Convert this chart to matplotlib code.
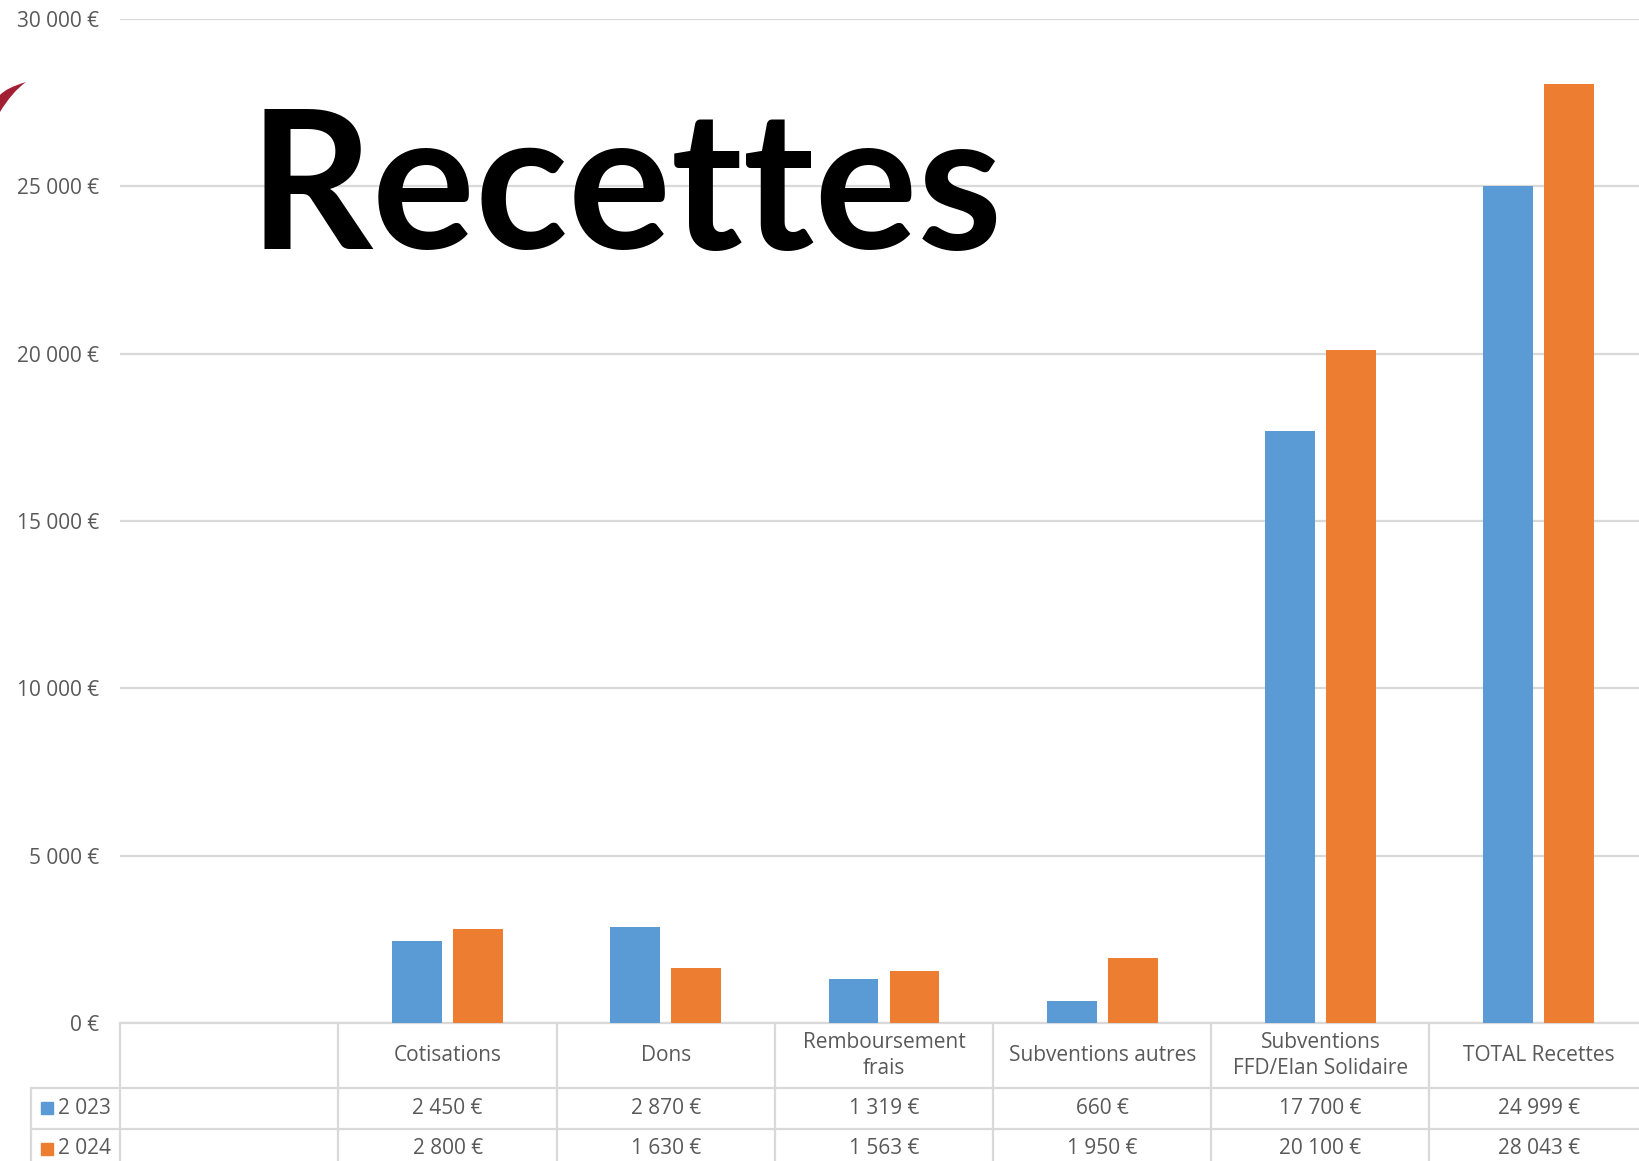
import numpy as np
import matplotlib.pyplot as plt
import matplotlib.transforms as mtransforms
from matplotlib.path import Path
from matplotlib.patches import PathPatch

plt.rcParams['font.family'] = ['Open Sans', 'DejaVu Sans']

# données
categories = ['', 'Cotisations', 'Dons', 'Remboursement\nfrais', 'Subventions autres',
              'Subventions\nFFD/Elan Solidaire', 'TOTAL Recettes']
series_names = ['2 023', '2 024']
vals_2023 = [np.nan, 2450, 2870, 1319, 660, 17700, 24999]
vals_2024 = [np.nan, 2800, 1630, 1563, 1950, 20100, 28043]
yticks = [0, 5000, 10000, 15000, 20000, 25000, 30000]

blue = '#5B9BD5'
orange = '#ED7D31'
grey_txt = '#595959'
grid_col = '#d9d9d9'
fs = 15


def euro(v):
    return f"{int(v):,}".replace(',', ' ') + ' €'


fig = plt.figure(figsize=(16.4, 11.61), dpi=100)
ax = fig.add_axes([120.3 / 1640, 1 - 1023 / 1161, 7 * 218.2 / 1640, (1023 - 18.8) / 1161])

x = np.arange(len(categories))
w = 0.228
off = 0.14
ax.bar(x - off, vals_2023, w, color=blue, zorder=3)
ax.bar(x + off, vals_2024, w, color=orange, zorder=3)

ax.set_xlim(-0.5, len(categories) - 0.5)
ax.set_ylim(0, 30000)
ax.set_yticks(yticks)
ax.set_yticklabels([euro(v) for v in yticks], color=grey_txt, fontsize=fs)
ax.tick_params(axis='y', length=0, pad=15)
ax.set_xticks([])
ax.yaxis.grid(True, color=grid_col, lw=1.6)
ax.set_axisbelow(True)
for s in ax.spines.values():
    s.set_visible(False)

# tableau de données sous le graphique
trans = mtransforms.blended_transform_factory(ax.transData, ax.transAxes)
axh = (1023 - 18.8)
h_head = 65 / axh
h_row = 40.5 / axh
leg_left = -0.5 - (120.3 - 31) / 218.2
y_rows = [0, -h_head, -h_head - h_row, -h_head - 2 * h_row]
lk = dict(transform=trans, clip_on=False, color=grid_col, lw=1.6, zorder=2)

ax.plot([-0.5, len(categories) - 0.5], [0, 0], **lk)
for yy in y_rows[1:]:
    ax.plot([leg_left, len(categories) - 0.5], [yy, yy], **lk)
for k in range(len(categories) + 1):
    ax.plot([k - 0.5, k - 0.5], [0, y_rows[-1]], **lk)
ax.plot([leg_left, leg_left], [y_rows[1], y_rows[-1]], **lk)

for i, lab in enumerate(categories):
    ax.text(i, -h_head / 2, lab, transform=trans, ha='center', va='center',
            color=grey_txt, fontsize=fs, linespacing=1.25)

for r, (name, vals, col) in enumerate(zip(series_names, [vals_2023, vals_2024], [blue, orange])):
    yc = -h_head - h_row * (r + 0.5)
    ax.plot([-0.5 - (120.3 - 47) / 218.2], [yc], marker='s', ms=8, color=col,
            transform=trans, clip_on=False, ls='none')
    ax.text(-0.5 - (120.3 - 58) / 218.2, yc, name, transform=trans, ha='left', va='center',
            color=grey_txt, fontsize=fs)
    for i, v in enumerate(vals):
        if not np.isnan(v):
            ax.text(i, yc, euro(v), transform=trans, ha='center', va='center',
                    color=grey_txt, fontsize=fs)

# titre
fig.text(249 / 1640, 1 - 249 / 1161, 'Recettes', family=['Lato', 'DejaVu Sans'],
         fontsize=139, fontweight='bold', color='black', ha='left', va='baseline')

# bout de logo rouge en haut à gauche
verts = [(0, 1161 - 112), (12, 1161 - 92), (26, 1161 - 82), (6, 1161 - 88),
         (0, 1161 - 95), (0, 1161 - 112)]
codes = [Path.MOVETO, Path.CURVE3, Path.LINETO, Path.CURVE3, Path.LINETO, Path.CLOSEPOLY]
logo = PathPatch(Path(verts, codes), facecolor='#a31f34', edgecolor='none',
                 transform=None)
fig.add_artist(logo)

fig.savefig('out.png', dpi=100)
